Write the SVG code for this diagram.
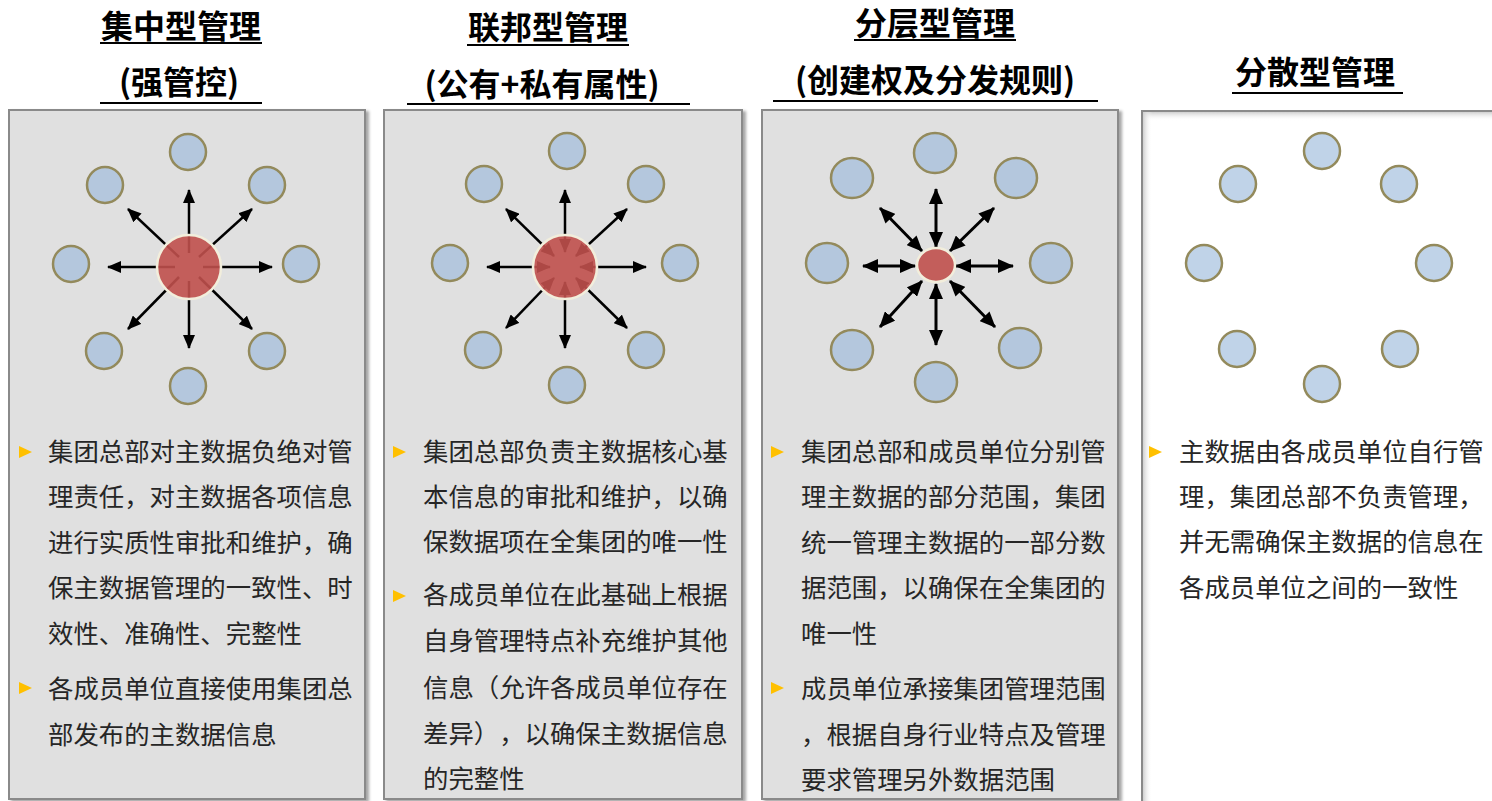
<svg xmlns="http://www.w3.org/2000/svg" width="1492" height="801" viewBox="0 0 1492 801">
<style>
.hd{font-family:"Noto Sans CJK SC","Noto Sans",sans-serif;font-size:32px;font-weight:bold;fill:#000;text-anchor:middle}
.ul{stroke:#000;stroke-width:2}
.bd{font-family:"Noto Sans CJK SC","Noto Sans",sans-serif;font-size:25.4px;fill:#262626;text-spacing-trim:space-all;font-feature-settings:"halt" 0,"chws" 0}
.panel{fill:#e0e0e0;stroke:#8a8a8a;stroke-width:2}
.node{fill:#b4c7dd;stroke:#938a5c;stroke-width:2.5}
.node4{fill:#c0d3e8;stroke:#938a5c;stroke-width:2.5}
.hub{fill:#c0504d;fill-opacity:0.9;stroke:#f2eedc;stroke-width:2.5}
.ar{stroke:#000;stroke-width:2.5;fill:none}
.ar3{stroke:#000;stroke-width:3;fill:none}
.bul{fill:#ffc000}
</style>
<defs>
<marker id="ah" viewBox="0 0 14 12" markerWidth="14" markerHeight="12" refX="13" refY="6" orient="auto-start-reverse" markerUnits="userSpaceOnUse">
<path d="M0,0 L14,6 L0,12 z" fill="#000"/>
</marker>
<marker id="ah3" viewBox="0 0 16 14" markerWidth="16" markerHeight="14" refX="15" refY="7" orient="auto-start-reverse" markerUnits="userSpaceOnUse">
<path d="M0,0 L16,7 L0,14 z" fill="#000"/>
</marker>
<filter id="sh" x="-5%" y="-5%" width="115%" height="115%">
<feDropShadow dx="3" dy="2" stdDeviation="1.5" flood-color="#000" flood-opacity="0.35"/>
</filter>
<linearGradient id="gt" x1="0" y1="0" x2="0" y2="1">
<stop offset="0" stop-color="#cfcfcf"/><stop offset="1" stop-color="#ffffff" stop-opacity="0"/>
</linearGradient>
<linearGradient id="gl" x1="0" y1="0" x2="1" y2="0">
<stop offset="0" stop-color="#cfcfcf"/><stop offset="1" stop-color="#ffffff" stop-opacity="0"/>
</linearGradient>
</defs>
<rect width="1492" height="801" fill="#ffffff"/>

<g id="panel1">
<text class="hd" x="181" y="38">集中型管理</text>
<line class="ul" x1="100" y1="43" x2="262" y2="43"/>
<text class="hd" x="179" y="94">(强管控)</text>
<line class="ul" x1="100" y1="103" x2="262" y2="103"/>
<rect class="panel" x="9" y="110" width="356" height="689" filter="url(#sh)"/>
</g>
<g id="panel2">
<text class="hd" x="548" y="39">联邦型管理</text>
<line class="ul" x1="467" y1="45" x2="629" y2="45"/>
<text class="hd" x="542" y="96">(公有+私有属性)</text>
<line class="ul" x1="407" y1="104" x2="690" y2="104"/>
<rect class="panel" x="384" y="110" width="358" height="689" filter="url(#sh)"/>
</g>
<g id="panel3">
<text class="hd" x="935" y="35">分层型管理</text>
<line class="ul" x1="854" y1="40" x2="1016" y2="40"/>
<text class="hd" x="935" y="92">(创建权及分发规则)</text>
<line class="ul" x1="773" y1="101" x2="1098" y2="101"/>
<rect class="panel" x="762" y="110" width="356" height="689" filter="url(#sh)"/>
</g>
<g id="panel4">
<text class="hd" x="1315" y="84">分散型管理</text>
<line class="ul" x1="1232" y1="93" x2="1403" y2="93"/>
<rect x="1142" y="111" width="360" height="700" fill="#ffffff" stroke="#8a8a8a" stroke-width="2"/>
<rect x="1143" y="112" width="349" height="9" fill="url(#gt)"/>
<rect x="1143" y="112" width="9" height="689" fill="url(#gl)"/>
</g>

<g id="connectors">
<g id="c1" marker-end="url(#ah)">
<line class="ar" x1="189" y1="253" x2="189" y2="190"/>
<line class="ar" x1="189" y1="281" x2="189" y2="348"/>
<line class="ar" x1="175" y1="267" x2="108" y2="267"/>
<line class="ar" x1="203" y1="267" x2="272" y2="267"/>
<line class="ar" x1="179" y1="257" x2="128" y2="209"/>
<line class="ar" x1="199" y1="257" x2="252" y2="209"/>
<line class="ar" x1="179" y1="277" x2="128" y2="329"/>
<line class="ar" x1="199" y1="277" x2="252" y2="329"/>
</g>
<g id="c2" marker-start="url(#ah)" marker-end="url(#ah)">
<line class="ar" x1="565" y1="252" x2="565" y2="190"/>
<line class="ar" x1="565" y1="282" x2="565" y2="348"/>
<line class="ar" x1="550" y1="267" x2="487" y2="267"/>
<line class="ar" x1="580" y1="267" x2="646" y2="267"/>
<line class="ar" x1="554" y1="256" x2="506" y2="209"/>
<line class="ar" x1="576" y1="256" x2="627" y2="209"/>
<line class="ar" x1="554" y1="278" x2="506" y2="328"/>
<line class="ar" x1="576" y1="278" x2="627" y2="328"/>
</g>
<g id="c3" marker-start="url(#ah3)" marker-end="url(#ah3)">
<line class="ar3" x1="936" y1="247" x2="936" y2="189"/>
<line class="ar3" x1="936" y1="284" x2="936" y2="345"/>
<line class="ar3" x1="915" y1="266" x2="863" y2="266"/>
<line class="ar3" x1="956" y1="266" x2="1013" y2="266"/>
<line class="ar3" x1="922" y1="251" x2="880" y2="208"/>
<line class="ar3" x1="950" y1="251" x2="994" y2="208"/>
<line class="ar3" x1="922" y1="281" x2="880" y2="327"/>
<line class="ar3" x1="950" y1="281" x2="995" y2="327"/>
</g>
</g>

<g id="p1-nodes">
<g id="p1-hub"><circle class="hub" cx="189" cy="267" r="32"/></g>
<g id="p1-n1"><circle class="node" cx="188" cy="152" r="18"/></g>
<g id="p1-n2"><circle class="node" cx="267" cy="185" r="18"/></g>
<g id="p1-n3"><circle class="node" cx="301" cy="264" r="18"/></g>
<g id="p1-n4"><circle class="node" cx="267" cy="351" r="18"/></g>
<g id="p1-n5"><circle class="node" cx="188" cy="386" r="18"/></g>
<g id="p1-n6"><circle class="node" cx="104" cy="351" r="18"/></g>
<g id="p1-n7"><circle class="node" cx="71" cy="264" r="18"/></g>
<g id="p1-n8"><circle class="node" cx="105" cy="185" r="18"/></g>
</g>
<g id="p2-nodes">
<g id="p2-hub"><circle class="hub" cx="565" cy="267" r="32"/></g>
<g id="p2-n1"><circle class="node" cx="567" cy="151" r="18"/></g>
<g id="p2-n2"><circle class="node" cx="646" cy="184" r="18"/></g>
<g id="p2-n3"><circle class="node" cx="680" cy="263" r="18"/></g>
<g id="p2-n4"><circle class="node" cx="646" cy="350" r="18"/></g>
<g id="p2-n5"><circle class="node" cx="567" cy="385" r="18"/></g>
<g id="p2-n6"><circle class="node" cx="483" cy="350" r="18"/></g>
<g id="p2-n7"><circle class="node" cx="450" cy="263" r="18"/></g>
<g id="p2-n8"><circle class="node" cx="484" cy="184" r="18"/></g>
</g>
<g id="p3-nodes">
<g id="p3-hub"><ellipse class="hub" cx="936" cy="265" rx="19" ry="17"/></g>
<g id="p3-n1"><ellipse class="node" cx="935" cy="153" rx="21" ry="20"/></g>
<g id="p3-n2"><ellipse class="node" cx="1016" cy="178" rx="21" ry="20"/></g>
<g id="p3-n3"><ellipse class="node" cx="1051" cy="263" rx="21" ry="20"/></g>
<g id="p3-n4"><ellipse class="node" cx="1020" cy="348" rx="21" ry="20"/></g>
<g id="p3-n5"><ellipse class="node" cx="936" cy="382" rx="21" ry="20"/></g>
<g id="p3-n6"><ellipse class="node" cx="852" cy="350" rx="21" ry="20"/></g>
<g id="p3-n7"><ellipse class="node" cx="827" cy="263" rx="21" ry="20"/></g>
<g id="p3-n8"><ellipse class="node" cx="852" cy="178" rx="21" ry="20"/></g>
</g>
<g id="p4-nodes">
<g id="p4-n1"><circle class="node4" cx="1322" cy="151" r="18"/></g>
<g id="p4-n2"><circle class="node4" cx="1399" cy="184" r="18"/></g>
<g id="p4-n3"><circle class="node4" cx="1434" cy="263" r="18"/></g>
<g id="p4-n4"><circle class="node4" cx="1400" cy="349" r="18"/></g>
<g id="p4-n5"><circle class="node4" cx="1322" cy="384" r="18"/></g>
<g id="p4-n6"><circle class="node4" cx="1237" cy="349" r="18"/></g>
<g id="p4-n7"><circle class="node4" cx="1204" cy="263" r="18"/></g>
<g id="p4-n8"><circle class="node4" cx="1238" cy="184" r="18"/></g>
</g>

<g id="p1-text">
<path class="bul" d="M19,446 L32,452 L19,458 z"/>
<path class="bul" d="M19,682 L32,688 L19,694 z"/>
<text class="bd" x="48" y="461">集团总部对主数据负绝对管</text>
<text class="bd" x="48" y="506">理责任，对主数据各项信息</text>
<text class="bd" x="48" y="552">进行实质性审批和维护，确</text>
<text class="bd" x="48" y="597">保主数据管理的一致性、时</text>
<text class="bd" x="48" y="643">效性、准确性、完整性</text>
<text class="bd" x="48" y="698">各成员单位直接使用集团总</text>
<text class="bd" x="48" y="744">部发布的主数据信息</text>
</g>
<g id="p2-text">
<path class="bul" d="M393,446 L406,452 L393,458 z"/>
<path class="bul" d="M393,590 L406,596 L393,602 z"/>
<text class="bd" x="423" y="461">集团总部负责主数据核心基</text>
<text class="bd" x="423" y="506">本信息的审批和维护，以确</text>
<text class="bd" x="423" y="551">保数据项在全集团的唯一性</text>
<text class="bd" x="423" y="604">各成员单位在此基础上根据</text>
<text class="bd" x="423" y="650">自身管理特点补充维护其他</text>
<text class="bd" x="423" y="697">信息（允许各成员单位存在</text>
<text class="bd" x="423" y="743">差异），以确保主数据信息</text>
<text class="bd" x="423" y="788">的完整性</text>
</g>
<g id="p3-text">
<path class="bul" d="M771,446 L784,452 L771,458 z"/>
<path class="bul" d="M771,682 L784,688 L771,694 z"/>
<text class="bd" x="801" y="461">集团总部和成员单位分别管</text>
<text class="bd" x="801" y="506">理主数据的部分范围，集团</text>
<text class="bd" x="801" y="552">统一管理主数据的一部分数</text>
<text class="bd" x="801" y="597">据范围，以确保在全集团的</text>
<text class="bd" x="801" y="643">唯一性</text>
<text class="bd" x="801" y="698">成员单位承接集团管理范围</text>
<text class="bd" x="801" y="744">，根据自身行业特点及管理</text>
<text class="bd" x="801" y="789">要求管理另外数据范围</text>
</g>
<g id="p4-text">
<path class="bul" d="M1149,446 L1162,452 L1149,458 z"/>
<text class="bd" x="1179" y="461">主数据由各成员单位自行管</text>
<text class="bd" x="1179" y="506">理，集团总部不负责管理，</text>
<text class="bd" x="1179" y="551">并无需确保主数据的信息在</text>
<text class="bd" x="1179" y="597">各成员单位之间的一致性</text>
</g>
</svg>
